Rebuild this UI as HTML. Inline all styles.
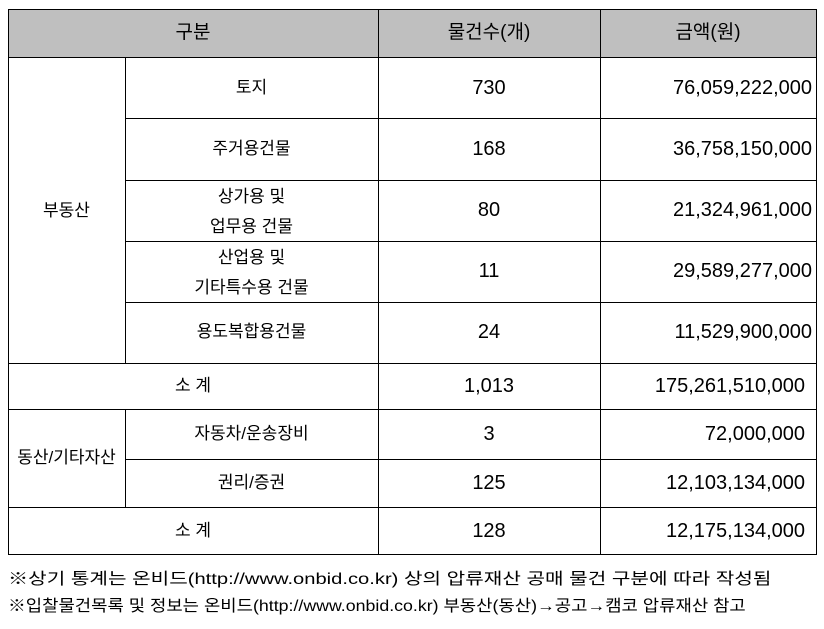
<!DOCTYPE html>
<html><head><meta charset="utf-8"><style>
body{margin:0;width:824px;height:629px;background:#fff;position:relative;overflow:hidden;font-family:"Liberation Sans","Noto Sans CJK KR","NanumGothic",sans-serif;color:#000}
.l{position:absolute;background:#000}
.t{position:absolute;font-size:17px;line-height:20px;white-space:nowrap}
.n{font-size:20px}
.c{text-align:center}
.r{text-align:right}
.f{position:absolute;font-size:16px;line-height:20px;white-space:nowrap;transform-origin:0 0}
</style></head><body>
<div style="position:absolute;left:8px;top:9px;width:808px;height:48px;background:#bfbfbf"></div>
<div class="l" style="left:8px;top:9px;width:809px;height:1px"></div>
<div class="l" style="left:8px;top:57px;width:809px;height:1px"></div>
<div class="l" style="left:125px;top:118px;width:692px;height:1px"></div>
<div class="l" style="left:125px;top:180px;width:692px;height:1px"></div>
<div class="l" style="left:125px;top:241px;width:692px;height:1px"></div>
<div class="l" style="left:125px;top:302px;width:692px;height:1px"></div>
<div class="l" style="left:8px;top:363px;width:809px;height:1px"></div>
<div class="l" style="left:8px;top:409px;width:809px;height:1px"></div>
<div class="l" style="left:125px;top:459px;width:692px;height:1px"></div>
<div class="l" style="left:8px;top:507px;width:809px;height:1px"></div>
<div class="l" style="left:8px;top:554px;width:809px;height:1px"></div>
<div class="l" style="left:8px;top:9px;width:1px;height:546px"></div>
<div class="l" style="left:816px;top:9px;width:1px;height:546px"></div>
<div class="l" style="left:378px;top:9px;width:1px;height:546px"></div>
<div class="l" style="left:600px;top:9px;width:1px;height:546px"></div>
<div class="l" style="left:125px;top:57px;width:1px;height:306px"></div>
<div class="l" style="left:125px;top:409px;width:1px;height:98px"></div>

<div class="t c" style="left:8px;width:370px;top:23px;font-size:19px">구분</div>
<div class="t c" style="left:378px;width:222px;top:23px;font-size:19px">물건수(개)</div>
<div class="t c" style="left:600px;width:216px;top:23px;font-size:19px">금액(원)</div>

<div class="t c" style="left:8px;width:117px;top:201px">부동산</div>
<div class="t c" style="left:125px;width:253px;top:78px">토지</div>
<div class="t c" style="left:125px;width:253px;top:139px">주거용건물</div>
<div class="t c" style="left:125px;width:253px;top:182px;line-height:30px">상가용 및<br>업무용 건물</div>
<div class="t c" style="left:125px;width:253px;top:243px;line-height:30px">산업용 및<br>기타특수용 건물</div>
<div class="t c" style="left:125px;width:253px;top:322px">용도복합용건물</div>
<div class="t c" style="left:8px;width:370px;top:376px">소 계</div>
<div class="t c" style="left:8px;width:117px;top:448px">동산/기타자산</div>
<div class="t c" style="left:125px;width:253px;top:424px">자동차/운송장비</div>
<div class="t c" style="left:125px;width:253px;top:473px">권리/증권</div>
<div class="t c" style="left:8px;width:370px;top:521px">소 계</div>

<div class="t c n" style="left:378px;width:222px;top:78px">730</div>
<div class="t c n" style="left:378px;width:222px;top:139px">168</div>
<div class="t c n" style="left:378px;width:222px;top:200px">80</div>
<div class="t c n" style="left:378px;width:222px;top:261px">11</div>
<div class="t c n" style="left:378px;width:222px;top:322px">24</div>
<div class="t c n" style="left:378px;width:222px;top:376px">1,013</div>
<div class="t c n" style="left:378px;width:222px;top:424px">3</div>
<div class="t c n" style="left:378px;width:222px;top:473px">125</div>
<div class="t c n" style="left:378px;width:222px;top:521px">128</div>

<div class="t r n" style="left:600px;width:212px;top:78px">76,059,222,000</div>
<div class="t r n" style="left:600px;width:212px;top:139px">36,758,150,000</div>
<div class="t r n" style="left:600px;width:212px;top:200px">21,324,961,000</div>
<div class="t r n" style="left:600px;width:212px;top:261px">29,589,277,000</div>
<div class="t r n" style="left:600px;width:212px;top:322px">11,529,900,000</div>
<div class="t r n" style="left:600px;width:205px;top:376px">175,261,510,000</div>
<div class="t r n" style="left:600px;width:205px;top:424px">72,000,000</div>
<div class="t r n" style="left:600px;width:205px;top:473px">12,103,134,000</div>
<div class="t r n" style="left:600px;width:205px;top:521px">12,175,134,000</div>

<div class="f" style="left:8px;top:570px;transform:scaleX(1.26)">※상기 통계는 온비드(http://www.onbid.co.kr) 상의 압류재산 공매 물건 구분에 따라 작성됨</div>
<div class="f" style="left:8px;top:597px;transform:scaleX(1.11)">※입찰물건목록 및 정보는 온비드(http://www.onbid.co.kr) 부동산(동산)→공고→캠코 압류재산 참고</div>
</body></html>
